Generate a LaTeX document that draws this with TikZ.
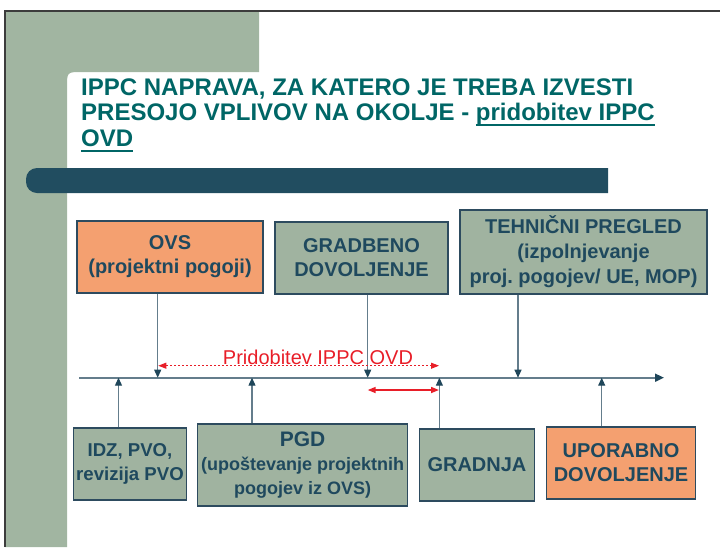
\documentclass[tikz,border=0pt]{standalone}
\usepackage{fontspec}
\setmainfont{Liberation Sans}
\usetikzlibrary{arrows.meta}
\definecolor{sgreen}{RGB}{161,181,161}
\definecolor{bgreen}{RGB}{160,179,160}
\definecolor{sorange}{RGB}{244,160,112}
\definecolor{sbar}{RGB}{33,77,96}
\definecolor{btext}{RGB}{31,73,94}
\definecolor{bborder}{RGB}{45,75,95}
\definecolor{steal}{RGB}{0,102,102}
\definecolor{sline}{RGB}{100,125,140}
\definecolor{stip}{RGB}{31,70,90}
\definecolor{sred}{RGB}{232,30,40}
\definecolor{sframe}{RGB}{60,60,60}
\newcommand\ulx[1]{\setbox0\hbox{#1}\rlap{\rule[-6.3pt]{\wd0}{2.3pt}}\box0}
\begin{document}
\begin{tikzpicture}[x=1pt,y=-1pt,
  titletext/.style={anchor=base west,inner sep=0pt,text=steal,font=\bfseries\fontsize{24}{25.5}\selectfont},
  boxbase/.style={draw=bborder,line width=1.2pt,text=btext,align=center,inner sep=0pt,
    font=\bfseries\fontsize{20}{24}\selectfont},
  gbox/.style={boxbase,fill=bgreen},
  obox/.style={boxbase,fill=sorange},
  conn/.style={draw=sline,line width=1.1pt,-{Triangle[length=8pt,width=7pt,color=stip]}},
  timeline/.style={draw=sline,line width=1.8pt,-{Triangle[length=9pt,width=8pt,color=stip]}},
  reddash/.style={draw=sred,line width=1pt,dash pattern=on 2pt off 2pt,
    {Triangle[length=8pt,width=6pt,color=sred]}-{Triangle[length=8pt,width=6pt,color=sred]}},
  redsolid/.style={draw=sred,line width=1.6pt,
    {Triangle[length=8pt,width=6pt,color=sred]}-{Triangle[length=8pt,width=6pt,color=sred]}}
]
\useasboundingbox (0,0) rectangle (720,547);
% background
\fill[sgreen] (5,11) -- (259,11) -- (259,72) -- (82,72) .. controls (67,72) and (67,72) .. (67,87) -- (67,547) -- (5,547) -- cycle;
\fill[sbar] (608,168) [rounded corners=11pt] -- (26,168) -- (26,193) [sharp corners] -- (608,193) -- cycle;
\draw[sframe,line width=1.6pt] (5,547) -- (5,11) -- (720,11);
% title
\node[titletext] (title1) at (81,95) {IPPC NAPRAVA, ZA KATERO JE TREBA IZVESTI};
\node[titletext] (title2) at (81,120) {PRESOJO VPLIVOV NA OKOLJE - \ulx{pridobitev IPPC}};
\node[titletext] (title3) at (81,146) {\ulx{OVD}};
% top boxes
\node[obox,minimum width=186pt,minimum height=72pt] (ovs) at (170,257) {OVS\\(projektni pogoji)};
\node[gbox,minimum width=173pt,minimum height=72pt] (gd) at (361.5,258) {GRADBENO\\DOVOLJENJE};
\node[gbox,minimum width=247pt,minimum height=84pt,font=\bfseries\fontsize{20}{25}\selectfont] (tp) at (583.5,252) {TEHNIČNI PREGLED\\(izpolnjevanje\\proj.\ pogojev/ UE, MOP)};
% bottom boxes
\node[gbox,minimum width=113.5pt,minimum height=72pt,font=\bfseries\fontsize{18.6}{23.5}\selectfont] (idz) at (130,464) {IDZ, PVO,\\revizija PVO};
\node[gbox,minimum width=210pt,minimum height=82pt] (pgd) at (302.6,465) {{\fontsize{21}{23}\selectfont PGD}\\{\fontsize{18}{22.5}\selectfont (upoštevanje projektnih}\\{\fontsize{18}{22.5}\selectfont pogojev iz OVS)}};
\node[gbox,minimum width=115pt,minimum height=72pt] (gr) at (477,465) {GRADNJA};
\node[obox,minimum width=149.5pt,minimum height=72pt] (ud) at (621,463) {UPORABNO\\DOVOLJENJE};
% timeline
\coordinate (tstart) at (79,377.7);
\coordinate (tend) at (664,377.7);
\draw[timeline] (tstart) -- (tend);
\coordinate (tovs) at (157.7,377.7);
\coordinate (tgd) at (367.7,377.7);
\coordinate (ttp) at (518,377.7);
\coordinate (tidz) at (118.5,377.7);
\coordinate (tpgd) at (252,377.7);
\coordinate (tgr) at (439.4,377.7);
\coordinate (tud) at (601.7,377.7);
\draw[conn] (ovs.south -| tovs) -- (tovs);
\draw[conn] (gd.south -| tgd) -- (tgd);
\draw[conn] (tp.south -| ttp) -- (ttp);
\draw[conn] (idz.north -| tidz) -- (tidz);
\draw[conn] (pgd.north -| tpgd) -- (tpgd);
\draw[conn] (gr.north -| tgr) -- (tgr);
\draw[conn] (ud.north -| tud) -- (tud);
% red arrows
\coordinate (ra) at (158.3,365.7);
\coordinate (rb) at (439,365.7);
\draw[reddash] (ra) -- (rb);
\node[anchor=base,inner sep=0pt,text=sred,font=\fontsize{20}{24}\selectfont] (rlabel) at (318,364) {Pridobitev IPPC OVD};
\coordinate (rc) at (367.7,390);
\coordinate (rd) at (439,390);
\draw[redsolid] (rc) -- (rd);
\end{tikzpicture}
\end{document}
